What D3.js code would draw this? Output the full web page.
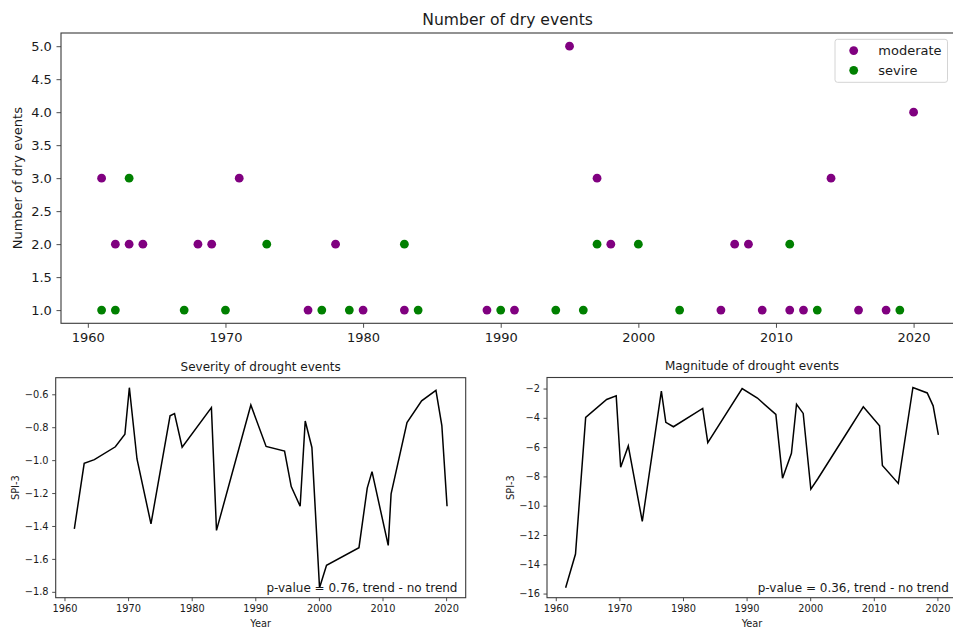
<!DOCTYPE html>
<html>
<head>
<meta charset="utf-8">
<script src="https://cdn.jsdelivr.net/npm/d3@7"></script>
<style>
  html, body { margin: 0; padding: 0; background: #fff; }
  svg { display: block; font-family: "DejaVu Sans", sans-serif; }
</style>
</head>
<body>
<svg id="fig" width="953" height="631"></svg>
<script>
// ---- data: number of dry events per year ----
const moderateYears  = [1961, 1962, 1963, 1964, 1968, 1969, 1971, 1976, 1978, 1980, 1983, 1989, 1991, 1995, 1997, 1998, 2006, 2007, 2008, 2009, 2011, 2012, 2014, 2016, 2018, 2020];
const moderateCounts = [3, 2, 2, 2, 2, 2, 3, 1, 2, 1, 1, 1, 1, 5, 3, 2, 1, 2, 2, 1, 1, 1, 3, 1, 1, 4];
const severeYears    = [1961, 1962, 1963, 1967, 1970, 1973, 1977, 1979, 1983, 1984, 1990, 1994, 1996, 1997, 2000, 2003, 2011, 2013, 2019];
const severeCounts   = [1, 1, 3, 1, 1, 2, 1, 1, 2, 1, 1, 1, 1, 2, 2, 1, 2, 1, 1];
const seriesNames    = ["moderate", "sevire"];

// ---- data: drought events (date as decimal year), severity and magnitude (SPI-3) ----
const eventDates = [1961.55, 1963.1, 1964.7, 1968.0, 1969.5, 1970.2, 1971.4, 1973.6, 1976.6, 1977.3, 1978.5,
                    1983.1, 1983.9, 1989.3, 1991.7, 1994.6, 1995.65, 1997.05, 1997.85, 1998.9, 2000.1, 2001.2,
                    2006.3, 2007.6, 2008.35, 2010.9, 2011.35, 2013.85, 2016.15, 2018.4, 2019.33, 2020.15];
const severityValues = [-1.417, -1.02, -0.997, -0.919, -0.842, -0.56, -0.993, -1.387, -0.731, -0.717, -0.921,
                        -0.681, -1.427, -0.665, -0.917, -0.945, -1.161, -1.28, -0.762, -0.923, -1.775, -1.639,
                        -1.532, -1.17, -1.07, -1.518, -1.205, -0.772, -0.64, -0.576, -0.79, -1.28];
const magnitudeValues = [-15.6, -13.3, -3.97, -2.75, -2.5, -7.37, -5.92, -11.07, -2.18, -4.31, -4.61,
                         -3.36, -5.7, -2.0, -2.65, -3.77, -8.12, -6.42, -3.07, -3.7, -8.87, -8.16,
                         -4.66, -3.77, -3.25, -4.54, -7.26, -8.48, -1.93, -2.3, -3.18, -5.17];

// ---- tick labels ----
const yearTicks      = [1960, 1970, 1980, 1990, 2000, 2010, 2020];
const countTicks     = [1.0, 1.5, 2.0, 2.5, 3.0, 3.5, 4.0, 4.5, 5.0];
const severityTicks  = [-1.8, -1.6, -1.4, -1.2, -1.0, -0.8, -0.6];
const magnitudeTicks = [-16, -14, -12, -10, -8, -6, -4, -2];

const titles = {
  counts: "Number of dry events",
  severity: "Severity of drought events",
  magnitude: "Magnitude of drought events"
};
const pValueNotes = {
  severity: "p-value = 0.76, trend - no trend",
  magnitude: "p-value = 0.36, trend - no trend"
};

const svg = d3.select("#fig");
const INK = "#1a1a1a";
const SPINE = "#3a3a3a";

// autoscale domain with 5% margins on each side
function padded(values) {
  const [lo, hi] = d3.extent(values);
  const m = (hi - lo) * 0.05;
  return [lo - m, hi + m];
}

function makeAxes(box, xDomain, yDomain, opts) {
  const g = svg.append("g");
  const x = d3.scaleLinear().domain(xDomain).range([box.left, box.right]);
  const y = d3.scaleLinear().domain(yDomain).range([box.bottom, box.top]);

  const xAxis = d3.axisBottom(x).tickValues(opts.xTicks).tickFormat(d3.format("d"))
    .tickSize(opts.tickLen).tickPadding(opts.tickPad);
  const yAxis = d3.axisLeft(y).tickValues(opts.yTicks).tickFormat(d3.format(opts.yFormat))
    .tickSize(opts.tickLen).tickPadding(opts.tickPad);

  const gx = g.append("g").attr("transform", `translate(0,${box.bottom})`).call(xAxis);
  const gy = g.append("g").attr("transform", `translate(${box.left},0)`).call(yAxis);
  [gx, gy].forEach(a => {
    a.select(".domain").remove();
    a.selectAll(".tick line").attr("stroke", SPINE).attr("stroke-width", 0.9);
    a.selectAll(".tick text").attr("fill", INK).style("font-size", opts.tickFont + "px")
      .style("font-family", "DejaVu Sans");
  });

  const plot = g.append("g");

  g.append("rect")
    .attr("x", box.left).attr("y", box.top)
    .attr("width", box.right - box.left).attr("height", box.bottom - box.top)
    .attr("fill", "none").attr("stroke", SPINE).attr("stroke-width", 1.1);

  g.append("text")
    .attr("x", (box.left + box.right) / 2).attr("y", box.top - opts.titleGap)
    .attr("text-anchor", "middle").attr("fill", INK)
    .style("font-size", opts.titleFont + "px")
    .text(opts.title);

  if (opts.xLabel) {
    g.append("text")
      .attr("x", (box.left + box.right) / 2).attr("y", opts.xLabelY)
      .attr("text-anchor", "middle").attr("fill", INK)
      .style("font-size", opts.labelFont + "px")
      .text(opts.xLabel);
  }
  g.append("text")
    .attr("transform", `translate(${opts.yLabelX},${(box.top + box.bottom) / 2}) rotate(-90)`)
    .attr("text-anchor", "middle").attr("fill", INK)
    .style("font-size", opts.labelFont + "px")
    .text(opts.yLabel);

  return { x, y, plot, box };
}

// ---------- upper panel: scatter of dry event counts ----------
const allYears = moderateYears.concat(severeYears);
const allCounts = moderateCounts.concat(severeCounts);
const countPanel = makeAxes(
  { left: 61, top: 33, right: 954.2, bottom: 323.3 },
  padded(allYears), padded(allCounts),
  { xTicks: yearTicks, yTicks: countTicks, yFormat: ".1f", tickLen: 4.5, tickPad: 4.6,
    tickFont: 13, titleFont: 15.6, titleGap: 8.3, labelFont: 13,
    title: titles.counts, yLabel: "Number of dry events", yLabelX: 22 }
);

const seriesColors = ["#800080", "#008000"];
const seriesData = [
  d3.zip(moderateYears, moderateCounts),
  d3.zip(severeYears, severeCounts)
];
seriesData.forEach((pts, i) => {
  countPanel.plot.append("g").selectAll("circle").data(pts).join("circle")
    .attr("cx", d => countPanel.x(d[0])).attr("cy", d => countPanel.y(d[1]))
    .attr("r", 4.4).attr("fill", seriesColors[i]);
});

// legend (upper right)
const legend = svg.append("g");
legend.append("rect")
  .attr("x", 835).attr("y", 39.3).attr("width", 112.5).attr("height", 43).attr("rx", 2.5)
  .attr("fill", "#fff").attr("fill-opacity", 0.8)
  .attr("stroke", "#d4d4d4").attr("stroke-width", 1);
seriesNames.forEach((name, i) => {
  const cy = 50.6 + i * 19.7;
  legend.append("circle").attr("cx", 853.7).attr("cy", cy).attr("r", 4.4).attr("fill", seriesColors[i]);
  legend.append("text").attr("x", 878.3).attr("y", cy).attr("dy", "0.35em")
    .attr("fill", INK).style("font-size", "13px").text(name);
});

// ---------- lower panels: line plots ----------
const bottomOpts = {
  xTicks: yearTicks, tickLen: 3.5, tickPad: 3.6, tickFont: 9.8,
  titleFont: 12, titleGap: 7.2, labelFont: 9.8, xLabel: "Year", xLabelY: 627.3, yLabel: "SPI-3"
};

function linePanel(box, values, yTicks, yFormat, title, note, yLabelX) {
  const p = makeAxes(box, padded(eventDates), padded(values),
    Object.assign({}, bottomOpts, { yTicks, yFormat, title, yLabelX }));
  const line = d3.line().x(d => p.x(d[0])).y(d => p.y(d[1]));
  p.plot.append("path")
    .datum(d3.zip(eventDates, values))
    .attr("d", line)
    .attr("fill", "none").attr("stroke", "#000").attr("stroke-width", 1.5)
    .attr("stroke-linejoin", "miter");
  svg.append("text")
    .attr("x", box.left + 0.98 * (box.right - box.left))
    .attr("y", box.bottom - 0.02 * (box.bottom - box.top) - 1)
    .attr("text-anchor", "end").attr("fill", INK)
    .style("font-size", "12px").text(note);
  return p;
}

linePanel({ left: 55.7, top: 377.7, right: 465.7, bottom: 597.7 },
  severityValues, severityTicks, ".1f", titles.severity, pValueNotes.severity, 18.5);
linePanel({ left: 547, top: 377.5, right: 957, bottom: 597.7 },
  magnitudeValues, magnitudeTicks, "d", titles.magnitude, pValueNotes.magnitude, 513.5);
</script>
</body>
</html>
